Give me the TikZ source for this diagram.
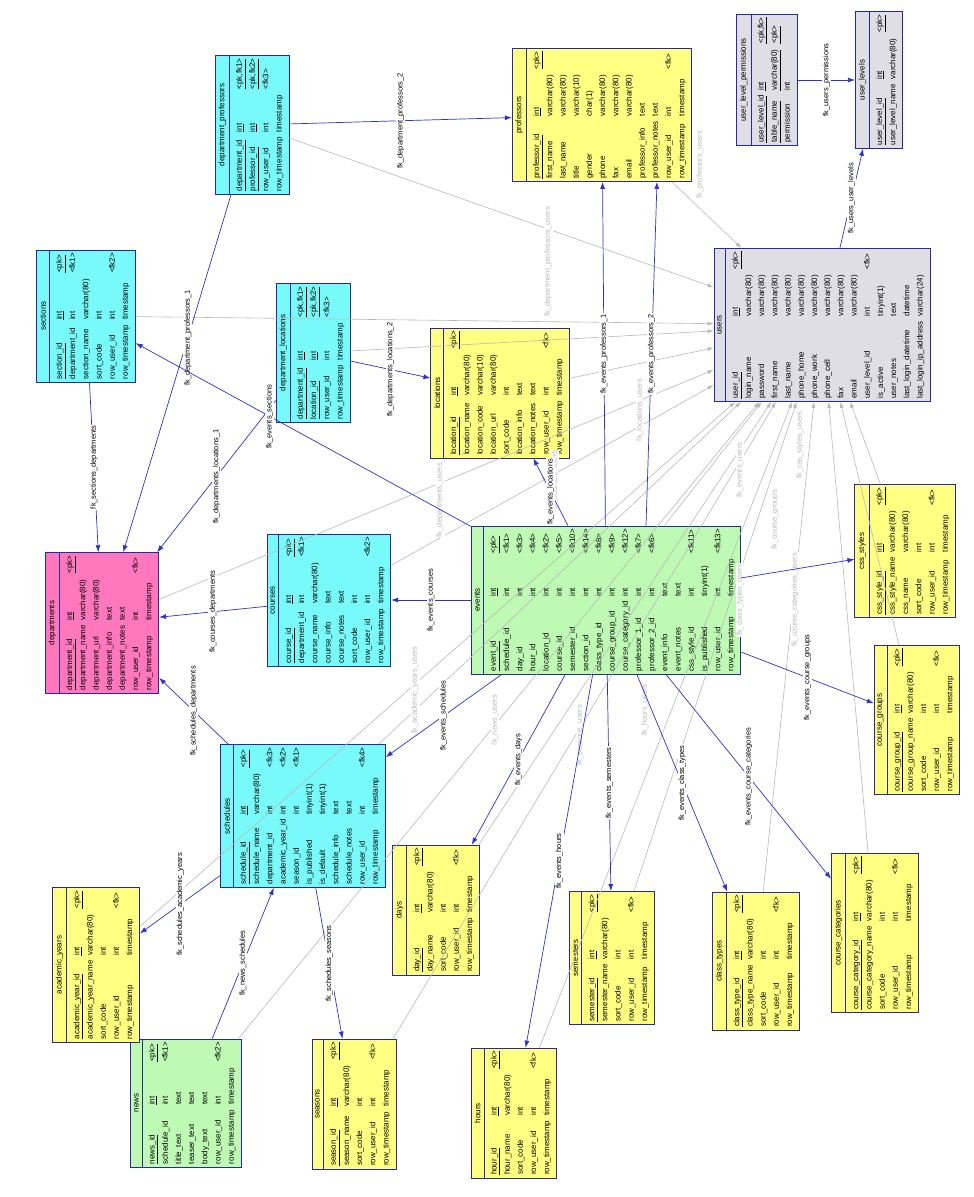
\documentclass[tikz,border=0pt]{standalone}
\usepackage{fontspec}
\setmainfont{Liberation Sans}
\usepackage{xcolor}
\usepackage{tikz}
\usetikzlibrary{positioning}
\usetikzlibrary{arrows.meta, shapes.multipart, calc}

\definecolor{tabline}{RGB}{40,40,160}
\definecolor{fkblue}{RGB}{50,50,200}
\definecolor{fkgrey}{RGB}{185,185,185}
\definecolor{pinktab}{RGB}{255,120,190}
\definecolor{cyantab}{RGB}{120,250,250}
\definecolor{yellowtab}{RGB}{255,255,130}
\definecolor{greentab}{RGB}{190,250,180}
\definecolor{greytab}{RGB}{222,222,228}

\newcommand{\pkc}[1]{\underline{#1}}
\newcommand{\ercols}{@{}l@{\hspace{5pt}}l@{\hspace{6pt}}l@{}}

\tikzset{
    ertab/.style={draw=tabline, line width=0.8pt, rectangle split, rectangle split parts=2,
        rotate=90, inner sep=3pt, font=\fontsize{8}{13.2}\selectfont},
    fk/.style={draw=fkblue, line width=0.7pt, -{Latex[length=7pt,width=5pt]}},
    fkg/.style={draw=fkgrey, line width=0.6pt, -{Latex[length=6pt,width=4pt]}},
    fklab/.style={rotate=90, fill=white, inner sep=1pt, font=\fontsize{7.5}{9}\selectfont},
    fkglab/.style={rotate=90, fill=white, inner sep=1pt, text=fkgrey, font=\fontsize{7.5}{9}\selectfont}
}

\begin{document}
\begin{tikzpicture}[x=1pt,y=-1pt]
    \useasboundingbox[fill=white] (0,0) rectangle (974,1197);

    % tables
    \node[ertab, fill=pinktab] (departments) at (102,623) {departments
        \nodepart{two}\begin{tabular}{\ercols}
            \pkc{department\_id} & \pkc{int} & \pkc{<pk>} \\
            department\_name & varchar(80) & \\
            department\_url & varchar(80) & \\
            department\_info & text & \\
            department\_notes & text & \\
            row\_user\_id & int & <fk> \\
            row\_timestamp & timestamp & \\
        \end{tabular}};
    \node[ertab, fill=cyantab] (sections) at (86,316) {sections
        \nodepart{two}\begin{tabular}{\ercols}
            \pkc{section\_id} & \pkc{int} & \pkc{<pk>} \\
            department\_id & int & <fk1> \\
            section\_name & varchar(80) & \\
            sort\_code & int & \\
            row\_user\_id & int & <fk2> \\
            row\_timestamp & timestamp & \\
        \end{tabular}};
    \node[ertab, fill=cyantab] (deptprof) at (252,125) {department\_professors
        \nodepart{two}\begin{tabular}{\ercols}
            \pkc{department\_id} & \pkc{int} & \pkc{<pk,fk1>} \\
            \pkc{professor\_id} & \pkc{int} & \pkc{<pk,fk2>} \\
            row\_user\_id & int & <fk3> \\
            row\_timestamp & timestamp & \\
        \end{tabular}};
    \node[ertab, fill=cyantab] (deptloc) at (313,353) {department\_locations
        \nodepart{two}\begin{tabular}{\ercols}
            \pkc{department\_id} & \pkc{int} & \pkc{<pk,fk1>} \\
            \pkc{location\_id} & \pkc{int} & \pkc{<pk,fk2>} \\
            row\_user\_id & int & <fk3> \\
            row\_timestamp & timestamp & \\
        \end{tabular}};
    \node[ertab, fill=cyantab] (courses) at (329,600) {courses
        \nodepart{two}\begin{tabular}{\ercols}
            \pkc{course\_id} & \pkc{int} & \pkc{<pk>} \\
            department\_id & int & <fk1> \\
            course\_name & varchar(80) & \\
            course\_info & text & \\
            course\_notes & text & \\
            sort\_code & int & \\
            row\_user\_id & int & <fk2> \\
            row\_timestamp & timestamp & \\
        \end{tabular}};
    \node[ertab, fill=yellowtab] (professors) at (602,115) {professors
        \nodepart{two}\begin{tabular}{\ercols}
            \pkc{professor\_id} & \pkc{int} & \pkc{<pk>} \\
            first\_name & varchar(80) & \\
            last\_name & varchar(80) & \\
            title & varchar(10) & \\
            gender & char(1) & \\
            phone & varchar(80) & \\
            fax & varchar(80) & \\
            email & varchar(80) & \\
            professor\_info & text & \\
            professor\_notes & text & \\
            row\_user\_id & int & <fk> \\
            row\_timestamp & timestamp & \\
        \end{tabular}};
    \node[ertab, fill=yellowtab] (locations) at (500,393) {locations
        \nodepart{two}\begin{tabular}{\ercols}
            \pkc{location\_id} & \pkc{int} & \pkc{<pk>} \\
            location\_name & varchar(80) & \\
            location\_code & varchar(10) & \\
            location\_url & varchar(80) & \\
            sort\_code & int & \\
            location\_info & text & \\
            location\_notes & text & \\
            row\_user\_id & int & <fk> \\
            row\_timestamp & timestamp & \\
        \end{tabular}};
    \node[ertab, fill=greentab] (events) at (606,600) {events
        \nodepart{two}\begin{tabular}{\ercols}
            \pkc{event\_id} & \pkc{int} & \pkc{<pk>} \\
            schedule\_id & int & <fk1> \\
            day\_id & int & <fk3> \\
            hour\_id & int & <fk4> \\
            location\_id & int & <fk2> \\
            course\_id & int & <fk5> \\
            semester\_id & int & <fk10> \\
            section\_id & int & <fk14> \\
            class\_type\_id & int & <fk8> \\
            course\_group\_id & int & <fk9> \\
            course\_category\_id & int & <fk12> \\
            professor\_1\_id & int & <fk7> \\
            professor\_2\_id & int & <fk6> \\
            event\_info & text & \\
            event\_notes & text & \\
            css\_style\_id & int & <fk11> \\
            is\_published & tinyint(1) & \\
            row\_user\_id & int & <fk13> \\
            row\_timestamp & timestamp & \\
        \end{tabular}};
    \node[ertab, fill=greytab] (users) at (822,325) {users
        \nodepart{two}\begin{tabular}{\ercols}
            \pkc{user\_id} & \pkc{int} & \pkc{<pk>} \\
            login\_name & varchar(80) & \\
            password & varchar(80) & \\
            first\_name & varchar(80) & \\
            last\_name & varchar(80) & \\
            phone\_home & varchar(80) & \\
            phone\_work & varchar(80) & \\
            phone\_cell & varchar(80) & \\
            fax & varchar(80) & \\
            email & varchar(80) & \\
            user\_level\_id & int & <fk> \\
            is\_active & tinyint(1) & \\
            user\_notes & text & \\
            last\_login\_datetime & datetime & \\
            last\_login\_ip\_address & varchar(24) & \\
        \end{tabular}};
    \node[ertab, fill=greytab] (ulperm) at (767,80) {user\_level\_permissions
        \nodepart{two}\begin{tabular}{\ercols}
            \pkc{user\_level\_id} & \pkc{int} & \pkc{<pk,fk>} \\
            \pkc{table\_name} & \pkc{varchar(80)} & \pkc{<pk>} \\
            permission & int & \\
        \end{tabular}};
    \node[ertab, fill=greytab] (ulevels) at (879,80) {user\_levels
        \nodepart{two}\begin{tabular}{\ercols}
            \pkc{user\_level\_id} & \pkc{int} & \pkc{<pk>} \\
            user\_level\_name & varchar(80) & \\
        \end{tabular}};
    \node[ertab, fill=yellowtab] (cssstyles) at (905,551) {css\_styles
        \nodepart{two}\begin{tabular}{\ercols}
            \pkc{css\_style\_id} & \pkc{int} & \pkc{<pk>} \\
            css\_style\_name & varchar(80) & \\
            css\_name & varchar(80) & \\
            sort\_code & int & \\
            row\_user\_id & int & <fk> \\
            row\_timestamp & timestamp & \\
        \end{tabular}};
    \node[ertab, fill=yellowtab] (cgroups) at (917,720) {course\_groups
        \nodepart{two}\begin{tabular}{\ercols}
            \pkc{course\_group\_id} & \pkc{int} & \pkc{<pk>} \\
            course\_group\_name & varchar(80) & \\
            sort\_code & int & \\
            row\_user\_id & int & <fk> \\
            row\_timestamp & timestamp & \\
        \end{tabular}};
    \node[ertab, fill=yellowtab] (ccats) at (875,933) {course\_categories
        \nodepart{two}\begin{tabular}{\ercols}
            \pkc{course\_category\_id} & \pkc{int} & \pkc{<pk>} \\
            course\_category\_name & varchar(80) & \\
            sort\_code & int & \\
            row\_user\_id & int & <fk> \\
            row\_timestamp & timestamp & \\
        \end{tabular}};
    \node[ertab, fill=yellowtab] (ctypes) at (756,961) {class\_types
        \nodepart{two}\begin{tabular}{\ercols}
            \pkc{class\_type\_id} & \pkc{int} & \pkc{<pk>} \\
            class\_type\_name & varchar(80) & \\
            sort\_code & int & \\
            row\_user\_id & int & <fk> \\
            row\_timestamp & timestamp & \\
        \end{tabular}};
    \node[ertab, fill=yellowtab] (semesters) at (612,958) {semesters
        \nodepart{two}\begin{tabular}{\ercols}
            \pkc{semester\_id} & \pkc{int} & \pkc{<pk>} \\
            semester\_name & varchar(80) & \\
            sort\_code & int & \\
            row\_user\_id & int & <fk> \\
            row\_timestamp & timestamp & \\
        \end{tabular}};
    \node[ertab, fill=yellowtab] (hours) at (514,1113) {hours
        \nodepart{two}\begin{tabular}{\ercols}
            \pkc{hour\_id} & \pkc{int} & \pkc{<pk>} \\
            hour\_name & varchar(80) & \\
            sort\_code & int & \\
            row\_user\_id & int & <fk> \\
            row\_timestamp & timestamp & \\
        \end{tabular}};
    \node[ertab, fill=yellowtab] (days) at (436,910) {days
        \nodepart{two}\begin{tabular}{\ercols}
            \pkc{day\_id} & \pkc{int} & \pkc{<pk>} \\
            day\_name & varchar(80) & \\
            sort\_code & int & \\
            row\_user\_id & int & <fk> \\
            row\_timestamp & timestamp & \\
        \end{tabular}};
    \node[ertab, fill=yellowtab] (seasons) at (354,1104) {seasons
        \nodepart{two}\begin{tabular}{\ercols}
            \pkc{season\_id} & \pkc{int} & \pkc{<pk>} \\
            season\_name & varchar(80) & \\
            sort\_code & int & \\
            row\_user\_id & int & <fk> \\
            row\_timestamp & timestamp & \\
        \end{tabular}};
    \node[ertab, fill=greentab] (news) at (186,1103) {news
        \nodepart{two}\begin{tabular}{\ercols}
            \pkc{news\_id} & \pkc{int} & \pkc{<pk>} \\
            schedule\_id & int & <fk1> \\
            title\_text & text & \\
            teaser\_text & text & \\
            body\_text & text & \\
            row\_user\_id & int & <fk2> \\
            row\_timestamp & timestamp & \\
        \end{tabular}};
    \node[ertab, fill=cyantab] (schedules) at (303,816) {schedules
        \nodepart{two}\begin{tabular}{\ercols}
            \pkc{schedule\_id} & \pkc{int} & \pkc{<pk>} \\
            schedule\_name & varchar(80) & \\
            department\_id & int & <fk3> \\
            academic\_year\_id & int & <fk2> \\
            season\_id & int & <fk1> \\
            is\_published & tinyint(1) & \\
            is\_default & tinyint(1) & \\
            schedule\_info & text & \\
            schedule\_notes & text & \\
            row\_user\_id & int & <fk4> \\
            row\_timestamp & timestamp & \\
        \end{tabular}};
    \node[ertab, fill=yellowtab] (acyears) at (96,965) {academic\_years
        \nodepart{two}\begin{tabular}{\ercols}
            \pkc{academic\_year\_id} & \pkc{int} & \pkc{<pk>} \\
            academic\_year\_name & varchar(80) & \\
            sort\_code & int & \\
            row\_user\_id & int & <fk> \\
            row\_timestamp & timestamp & \\
        \end{tabular}};

    % references to users
    \foreach \t in {professors, deptprof, sections, deptloc, locations, courses, departments,
        events, cssstyles, cgroups, ccats, ctypes, semesters, hours, days, seasons, news, schedules, acyears}
        \draw[fkg] (\t) -- (users);
    \node[fkglab] at (700,165) {fk\_professors\_users};
    \node[fkglab] at (548,262) {fk\_department\_professors\_users};
    \node[fkglab] at (640,410) {fk\_locations\_users};
    \node[fkglab] at (555,480) {fk\_courses\_users};
    \node[fkglab] at (440,500) {fk\_departments\_users};
    \node[fkglab] at (740,470) {fk\_events\_users};
    \node[fkglab] at (800,445) {fk\_css\_styles\_users};
    \node[fkglab] at (775,520) {fk\_course\_groups};
    \node[fkglab] at (795,600) {fk\_course\_categories\_users};
    \node[fkglab] at (740,600) {fk\_class\_types\_users};
    \node[fkglab] at (645,710) {fk\_hours\_users};
    \node[fkglab] at (580,735) {fk\_seasons\_users};
    \node[fkglab] at (495,720) {fk\_news\_users};
    \node[fkglab] at (415,690) {fk\_academic\_years\_users};

    % foreign keys
    \draw[fk] (sections) -- node[fklab] {fk\_sections\_departments} (departments);
    \draw[fk] (deptprof) -- node[fklab, pos=0.4] {fk\_department\_professors\_1} (departments);
    \draw[fk] (deptprof) -- node[fklab] {fk\_department\_professors\_2} (professors);
    \draw[fk] (deptloc) -- node[fklab] {fk\_departments\_locations\_1} (departments);
    \draw[fk] (deptloc) -- node[fklab] {fk\_departments\_locations\_2} (locations);
    \draw[fk] (courses) -- node[fklab] {fk\_courses\_departments} (departments);
    \draw[fk] (schedules) -- node[fklab] {fk\_schedules\_departments} (departments);
    \draw[fk] (schedules) -- node[fklab] {fk\_schedules\_academic\_years} (acyears);
    \draw[fk] (news) -- node[fklab] {fk\_news\_schedules} (schedules);
    \draw[fk] (schedules) -- node[fklab] {fk\_schedules\_seasons} (seasons);
    \draw[fk] (events) -- node[fklab, pos=0.6] {fk\_events\_sections} (sections);
    \draw[fk] (events) -- node[fklab] {fk\_events\_schedules} (schedules);
    \draw[fk] (events) -- node[fklab] {fk\_events\_courses} (courses);
    \draw[fk] (events) -- node[fklab] {fk\_events\_locations} (locations);
    \draw[fk] (events) -- node[fklab] {fk\_events\_professors\_1} (professors);
    \draw[fk] ($(events.east)+(40,0)$) -- node[fklab] {fk\_events\_professors\_2} ($(professors.west)+(55,0)$);
    \draw[fk] (events) -- node[fklab] {fk\_events\_days} (days);
    \draw[fk] (events) -- node[fklab] {fk\_events\_hours} (hours);
    \draw[fk] (events) -- node[fklab] {fk\_events\_semesters} (semesters);
    \draw[fk] (events) -- node[fklab] {fk\_events\_class\_types} (ctypes);
    \draw[fk] (events) -- node[fklab] {fk\_events\_course\_categories} (ccats);
    \draw[fk] (events) -- node[fklab] {fk\_events\_course\_groups} (cgroups);
    \draw[fk] (events) -- (cssstyles);
    \draw[fk] (users) -- node[fklab] {fk\_users\_user\_levels} (ulevels);
    \draw[fk] (ulperm) -- node[fklab] {fk\_users\_permissions} (ulevels);
\end{tikzpicture}
\end{document}
